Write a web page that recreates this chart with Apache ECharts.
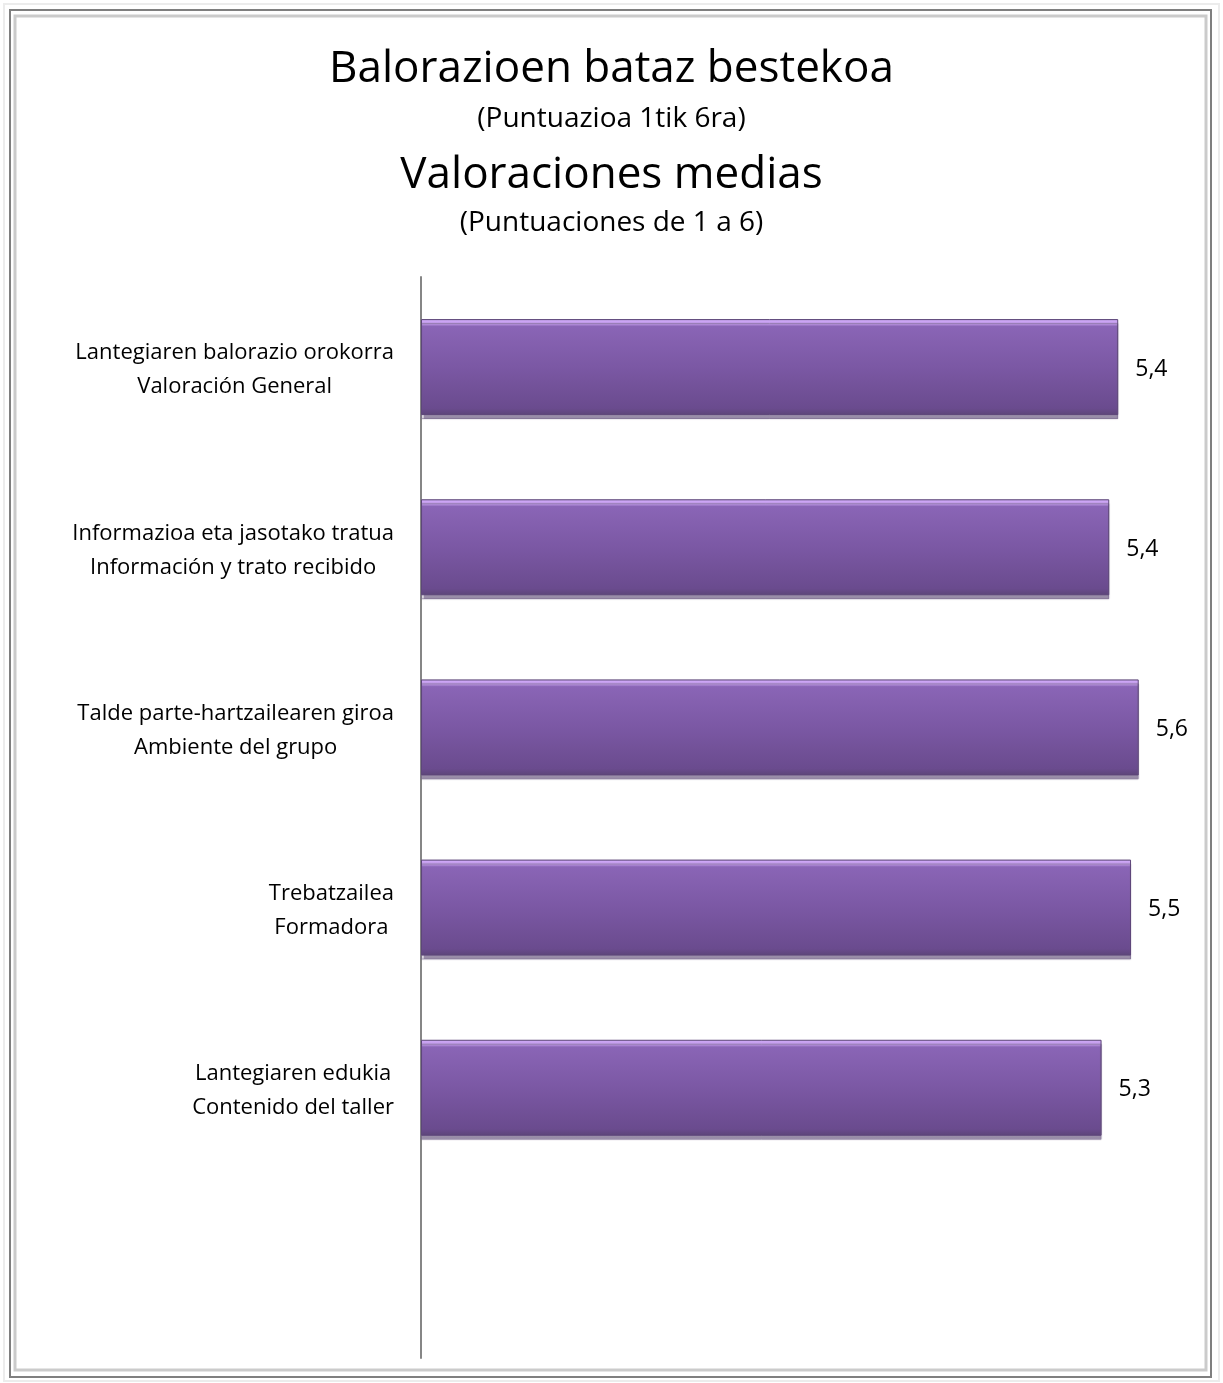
<!DOCTYPE html>
<html>
<head>
<meta charset="utf-8">
<script src="https://cdn.jsdelivr.net/npm/echarts@6/dist/echarts.min.js"></script>
<style>
  html, body { margin: 0; padding: 0; background: #fff; }
  #chart { width: 1223px; height: 1383px; }
</style>
</head>
<body>
<div id="chart"></div>
<script>
// datos del grafico
const categoriesEu = [
  'Lantegiaren balorazio orokorra',
  'Informazioa eta jasotako tratua',
  'Talde parte-hartzailearen giroa',
  'Trebatzailea',
  'Lantegiaren edukia'
]
const categoriesEs = [
  'Valoración General',
  'Información y trato recibido',
  'Ambiente del grupo',
  'Formadora',
  'Contenido del taller'
]
const values = [5.44, 5.37, 5.6, 5.54, 5.31]

const FONT = '"Open Sans", "Noto Sans", sans-serif'
const categories = categoriesEu.map((eu, i) => eu + '\n' + categoriesEs[i])

const chart = echarts.init(document.getElementById('chart'))

const option = {
  backgroundColor: '#fff',
  animation: false,
  title: [
    { text: 'Balorazioen bataz bestekoa', left: 'center', top: 42, textStyle: { fontFamily: FONT, fontSize: 44, fontWeight: 'normal', color: '#000' } },
    { text: '(Puntuazioa 1tik 6ra)', left: 'center', top: 100, textStyle: { fontFamily: FONT, fontSize: 28, fontWeight: 'normal', color: '#000' } },
    { text: 'Valoraciones medias', left: 'center', top: 148, textStyle: { fontFamily: FONT, fontSize: 44, fontWeight: 'normal', color: '#000' } },
    { text: '(Puntuaciones de 1 a 6)', left: 'center', top: 204, textStyle: { fontFamily: FONT, fontSize: 28, fontWeight: 'normal', color: '#000' } }
  ],
  // marco doble alrededor del grafico
  graphic: [
    { type: 'rect', silent: true, z: -1, shape: { x: 4, y: 4, width: 1215, height: 1377 }, style: { fill: null, stroke: '#ececec', lineWidth: 2 } },
    { type: 'rect', silent: true, z: -1, shape: { x: 10, y: 10, width: 1201, height: 1367 }, style: { fill: null, stroke: '#7f7f7f', lineWidth: 2 } },
    { type: 'rect', silent: true, z: -1, shape: { x: 15, y: 16, width: 1191, height: 1354 }, style: { fill: null, stroke: '#cbcbcb', lineWidth: 3 } }
  ],
  grid: {
    left: 421,
    right: 33,
    top: 277,
    bottom: 25,
    containLabel: false,
    outerBoundsMode: 'none'
  },
  xAxis: {
    type: 'value',
    min: 0,
    max: 6,
    show: false
  },
  yAxis: {
    type: 'category',
    inverse: true,
    data: categories,
    max: 5, // hueco vacio al final
    axisLine: { show: true, lineStyle: { color: '#868686', width: 2 } },
    axisTick: { show: false },
    splitLine: { show: false },
    axisLabel: {
      margin: 27,
      padding: [6, 0, 0, 0],
      formatter: v => {
        if (typeof v !== 'string' || v.indexOf('\n') < 0) return ''
        return v.split('\n').map(s => '{c|' + s + '}').join('\n')
      },
      rich: {
        c: { align: 'center', fontFamily: FONT, fontSize: 22, lineHeight: 34, color: '#000' }
      }
    }
  },
  series: [
    {
      type: 'bar',
      data: values,
      barWidth: 96,
      itemStyle: {
        color: new echarts.graphic.LinearGradient(0, 0, 0, 1, [
          { offset: 0, color: '#b39ad4' },
          { offset: 0.02, color: '#cda6f6' },
          { offset: 0.05, color: '#c29bea' },
          { offset: 0.075, color: '#8a65b6' },
          { offset: 0.5, color: '#7b58a4' },
          { offset: 0.93, color: '#6a4b8e' },
          { offset: 1, color: '#5c4578' }
        ]),
        borderColor: '#5d4679',
        borderWidth: 1,
        shadowColor: 'rgba(120,104,140,0.75)',
        shadowOffsetY: 4,
        shadowBlur: 1
      },
      label: {
        show: true,
        position: 'right',
        distance: 17,
        offset: [0, 2],
        fontFamily: FONT,
        fontSize: 23,
        color: '#000',
        formatter: p => p.value.toFixed(1).replace('.', ',')
      }
    }
  ]
}

chart.setOption(option)
</script>
</body>
</html>
